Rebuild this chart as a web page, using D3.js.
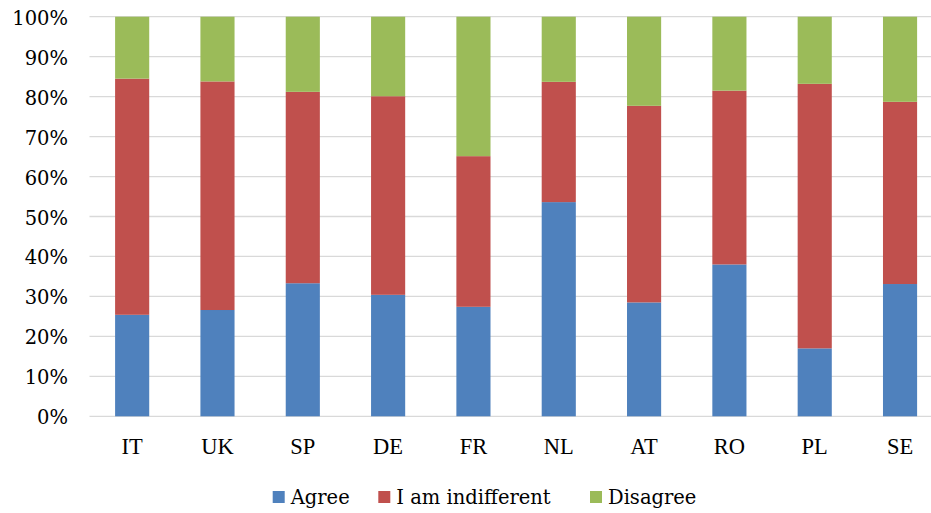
<!DOCTYPE html>
<html>
<head>
<meta charset="utf-8">
<script src="https://cdn.jsdelivr.net/npm/d3@7"></script>
<style>
  html, body { margin: 0; padding: 0; background: #fff; }
  svg { display: block; }
</style>
</head>
<body>
<svg id="chart" width="931" height="513"></svg>
<script>
const categories = ["IT", "UK", "SP", "DE", "FR", "NL", "AT", "RO", "PL", "SE"];
const seriesNames = ["Agree", "I am indifferent", "Disagree"];
const agree       = [25.4, 26.6, 33.3, 30.4, 27.4, 53.6, 28.5, 38.0, 17.0, 33.1];
const indifferent = [59.1, 57.2, 47.9, 49.7, 37.7, 30.1, 49.2, 43.5, 66.2, 45.6];
const disagree    = [15.5, 16.2, 18.8, 19.9, 34.9, 16.3, 22.3, 18.5, 16.8, 21.3];
const yTicks = [0, 10, 20, 30, 40, 50, 60, 70, 80, 90, 100];
const colors = ["#4f81bd", "#c0504d", "#9bbb59"];

const rows = categories.map((c, i) => ({
  cat: c, "Agree": agree[i], "I am indifferent": indifferent[i], "Disagree": disagree[i]
}));

const svg = d3.select("#chart");
const x = d3.scaleBand().domain(categories).range([89.5, 942.7]).paddingInner(0.6).paddingOuter(0.3);
const y = d3.scaleLinear().domain([0, 100]).range([416.3, 16.7]);

// gridlines
svg.append("g").selectAll("line").data(yTicks).join("line")
  .attr("x1", 89.5).attr("x2", 942.7)
  .attr("y1", d => y(d)).attr("y2", d => y(d))
  .attr("stroke", "#d9d9d9").attr("stroke-width", 1.3);

// y tick labels
svg.append("g").selectAll("text").data(yTicks).join("text")
  .attr("x", 68).attr("y", d => y(d) + 8)
  .attr("text-anchor", "end")
  .attr("font-family", "'DejaVu Serif', serif")
  .attr("font-size", 19.5)
  .attr("fill", "#000")
  .text(d => d + "%");

// stacked bars
const stack = d3.stack().keys(seriesNames)(rows);
svg.append("g").selectAll("g").data(stack).join("g")
  .attr("fill", (d, i) => colors[i])
  .selectAll("rect").data(d => d).join("rect")
  .attr("x", d => x(d.data.cat))
  .attr("width", x.bandwidth())
  .attr("y", d => y(d[1]))
  .attr("height", d => y(d[0]) - y(d[1]));

// x labels
svg.append("g").selectAll("text").data(categories).join("text")
  .attr("x", d => x(d) + x.bandwidth() / 2)
  .attr("y", 454)
  .attr("text-anchor", "middle")
  .attr("font-family", "'Liberation Serif', serif")
  .attr("font-size", 22.5)
  .attr("fill", "#000")
  .text(d => d);

// legend
const legendX = [272.7, 378.3, 590];
const lg = svg.append("g").selectAll("g").data(seriesNames).join("g")
  .attr("transform", (d, i) => `translate(${legendX[i]},0)`);
lg.append("rect").attr("x", 0).attr("y", 491).attr("width", 12).attr("height", 12)
  .attr("fill", (d, i) => colors[i]);
lg.append("text").attr("x", 18).attr("y", 504)
  .attr("font-family", "'DejaVu Serif', serif")
  .attr("font-size", 19.5)
  .attr("fill", "#000")
  .text(d => d);
</script>
</body>
</html>
